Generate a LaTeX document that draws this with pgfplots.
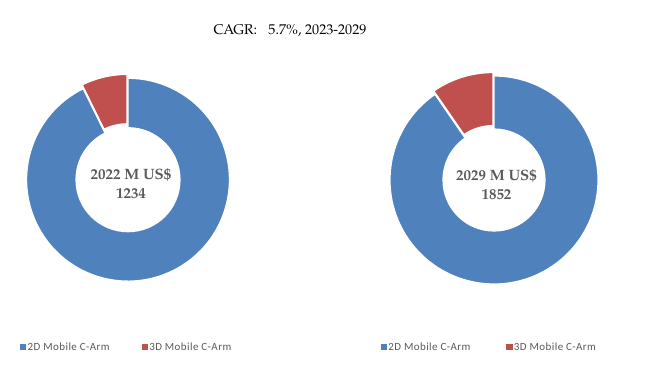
\documentclass[border=0pt]{standalone}
\usepackage{pgfplots}
\pgfplotsset{compat=1.18}
\usepackage{pgfplotstable}
\usepackage{fontspec}
\setmainfont{TeX Gyre Pagella}
\newfontfamily\legfont[LetterSpace=4]{Carlito}
\definecolor{cblue}{HTML}{4F81BD}
\definecolor{cred}{HTML}{C0504D}
\definecolor{lbl}{HTML}{595959}

% market size by segment, M US$
\pgfplotstableread{
seg value
2D 1144
3D 90
}\dataA
\pgfplotstableread{
seg value
2D 1674
3D 178
}\dataB

\pgfplotsset{
  donut/.style={
    hide axis, scale only axis, anchor=center,
    width=220bp, height=220bp,
    xmin=-1.1, xmax=1.1, ymin=-1.1, ymax=1.1, clip=false,
    legend columns=2,
    legend cell align=left,
    legend image code/.code={\fill[##1] (-0.6bp,-2.6bp) rectangle (4.6bp,2.6bp);},
    legend style={draw=none, fill=none, inner sep=0pt, anchor=west,
      font=\legfont\fontsize{11}{13}\selectfont, text=lbl,
      /tikz/every even column/.append style={column sep=30bp}},
  },
}

\begin{document}
\begin{tikzpicture}
\useasboundingbox (0,0) rectangle (650bp,-374bp);
\pgfplotstablegetelem{0}{value}\of\dataA \let\aTwo\pgfplotsretval
\pgfplotstablegetelem{1}{value}\of\dataA \let\aThree\pgfplotsretval
\pgfmathsetmacro\angA{360*(\aThree/(\aTwo+\aThree))}
\pgfplotstablegetelem{0}{value}\of\dataB \let\bTwo\pgfplotsretval
\pgfplotstablegetelem{1}{value}\of\dataB \let\bThree\pgfplotsretval
\pgfmathsetmacro\angB{360*(\bThree/(\bTwo+\bThree))}

\node[font=\fontsize{14.2}{16}\selectfont, text=black] at (290bp,-30.5bp) {CAGR:\hspace{0.8em}5.7\%, 2023-2029};

% left donut
\begin{axis}[donut, at={(128bp,-179.7bp)},
  legend style={at={(axis cs:-1.081,-1.673)}}]
\addlegendimage{cblue}
\addlegendentry{2D Mobile C-Arm}
\addlegendimage{cred}
\addlegendentry{3D Mobile C-Arm}
\begin{scope}[shift={(axis cs:0,0)}]
\fill[cblue, draw=white, line width=1.2bp] (90+\angA:101.4bp) arc[start angle=90+\angA, end angle=450, radius=101.4bp] -- (450:52bp) arc[start angle=450, end angle=90+\angA, radius=52bp] -- cycle;
\begin{scope}[shift={(90+\angA/2:4bp)}]
\fill[cred, draw=white, line width=1.2bp] (90:101.4bp) arc[start angle=90, end angle=90+\angA, radius=101.4bp] -- (90+\angA:52bp) arc[start angle=90+\angA, end angle=90, radius=52bp] -- cycle;
\end{scope}
\end{scope}
\node[align=center, font=\bfseries\fontsize{15}{19}\selectfont, text=lbl] at (axis cs:0.03,-0.045) {2022 M US\$\\1234};
\end{axis}

% right donut
\begin{axis}[donut, at={(494bp,-180bp)},
  legend style={at={(axis cs:-1.134,-1.67)},
    /tikz/every even column/.append style={column sep=34bp}}]
\addlegendimage{cblue}
\addlegendentry{2D Mobile C-Arm}
\addlegendimage{cred}
\addlegendentry{3D Mobile C-Arm}
\begin{scope}[shift={(axis cs:0,0)}]
\fill[cblue, draw=white, line width=1.2bp] (90+\angB:104bp) arc[start angle=90+\angB, end angle=450, radius=104bp] -- (450:51bp) arc[start angle=450, end angle=90+\angB, radius=51bp] -- cycle;
\begin{scope}[shift={(90+\angB/2:3.6bp)}]
\fill[cred, draw=white, line width=1.2bp] (90:104bp) arc[start angle=90, end angle=90+\angB, radius=104bp] -- (90+\angB:51bp) arc[start angle=90+\angB, end angle=90, radius=51bp] -- cycle;
\end{scope}
\end{scope}
\node[align=center, font=\bfseries\fontsize{15}{19}\selectfont, text=lbl] at (axis cs:0.025,-0.045) {2029 M US\$\\1852};
\end{axis}
\end{tikzpicture}
\end{document}
